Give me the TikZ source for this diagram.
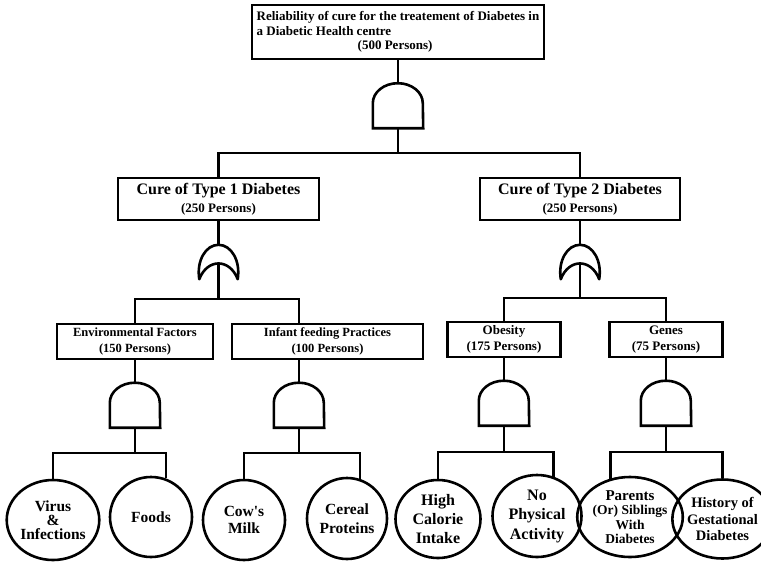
\documentclass[tikz,border=0pt]{standalone}
\usepackage{fontspec}
\setmainfont{Liberation Serif}
\usetikzlibrary{shapes.geometric,calc}
\begin{document}
\begin{tikzpicture}[x=1pt,y=1pt,
  wire/.style={line width=2.6pt},
  box/.style={draw,line width=2.6pt,rectangle,inner sep=0pt,align=center},
  evt/.style={draw,ellipse,line width=2.6pt,inner sep=0pt,align=center},
  gatebox/.style={rectangle,inner sep=0pt,draw=none},
  andg/.style={gatebox,minimum width=50pt,minimum height=45pt},
  org/.style={gatebox,minimum width=38pt,minimum height=34pt}
]
\useasboundingbox (0,0) rectangle (761,-563);

% top event
\node[box,minimum width=292pt,minimum height=54pt,align=left,
      font=\fontsize{13}{14.5}\selectfont\bfseries] (top) at (398,-32)
  {Reliability of cure for the treatement of Diabetes in\\
   a Diabetic Health centre\\
   \hspace*{101pt}(500 Persons)};
\node[andg] (g0) at (398,-105.5) {};
\coordinate (h0) at (398,-153);

% second level
\node[box,minimum width=201pt,minimum height=42pt,font=\fontsize{13}{18}\selectfont\bfseries] (t1) at (218.5,-199)
  {{\fontsize{16}{18}\selectfont Cure of Type 1 Diabetes}\\(250 Persons)};
\node[box,minimum width=200pt,minimum height=42pt,font=\fontsize{13}{18}\selectfont\bfseries] (t2) at (580,-199)
  {{\fontsize{16}{18}\selectfont Cure of Type 2 Diabetes}\\(250 Persons)};
\node[org] (o1) at (218.5,-262) {};
\node[org] (o2) at (580,-262) {};
\coordinate (h1) at (218.5,-299);
\coordinate (h2) at (580,-298);

% third level
\node[box,minimum width=156pt,minimum height=35pt,font=\fontsize{12.5}{16}\selectfont\bfseries] (env) at (135,-341.5)
  {Environmental Factors\\(150 Persons)};
\node[box,minimum width=191pt,minimum height=35pt,font=\fontsize{12.5}{16}\selectfont\bfseries] (inf) at (327.5,-341.5)
  {Infant feeding Practices\\(100 Persons)};
\node[box,minimum width=113pt,minimum height=35pt,font=\fontsize{13}{16}\selectfont\bfseries] (obe) at (504,-339.5)
  {Obesity\\(175 Persons)};
\node[box,minimum width=113pt,minimum height=35pt,font=\fontsize{13}{16}\selectfont\bfseries] (gen) at (666,-339.5)
  {Genes\\(75 Persons)};

\node[andg] (ge) at (135,-405) {};
\node[andg] (gi) at (299,-405) {};
\node[andg] (go) at (504,-403) {};
\node[andg] (gg) at (666,-403) {};
\coordinate (ha) at (135,-453);
\coordinate (hb) at (299,-453);
\coordinate (hc) at (504,-452);
\coordinate (hd) at (666,-452);

% basic events
\node[evt,minimum width=81pt,minimum height=80pt,font=\fontsize{15.5}{14}\selectfont\bfseries] (virus) at (53,-520)
  {Virus\\\&\\Infections};
\node[evt,minimum width=82pt,minimum height=80pt,font=\fontsize{15.5}{17}\selectfont\bfseries] (foods) at (151,-517)
  {Foods};
\node[evt,minimum width=82pt,minimum height=80pt,font=\fontsize{15.5}{17}\selectfont\bfseries] (cow) at (244,-520)
  {Cow\textquotesingle s\\Milk};
\node[evt,minimum width=80pt,minimum height=81pt,font=\fontsize{15.5}{19}\selectfont\bfseries] (cereal) at (347,-518.5)
  {Cereal\\Proteins};
\node[evt,minimum width=85pt,minimum height=78pt,font=\fontsize{16}{19}\selectfont\bfseries] (high) at (438,-519)
  {High\\Calorie\\Intake};
\node[evt,minimum width=89pt,minimum height=82pt,font=\fontsize{16}{19.5}\selectfont\bfseries] (noph) at (537,-516)
  {No\\Physical\\Activity};
\node[evt,minimum width=74pt,minimum height=80pt,font=\fontsize{13.5}{14.5}\selectfont\bfseries] (par) at (630,-517)
  {{\fontsize{15}{14.5}\selectfont Parents}\\(Or) Siblings\\With\\Diabetes};
\node[evt,minimum width=75pt,minimum height=79pt,font=\fontsize{14.5}{16.5}\selectfont\bfseries] (hist) at (722.5,-519)
  {History of\\Gestational\\Diabetes};

% gate symbols
\foreach \g in {g0,ge,gi,go,gg}{
  \draw[wire] (\g.south west) -- ++(0,25)
    arc[start angle=180,end angle=0,x radius=25,y radius=20] -- (\g.south east) -- cycle;
}
\foreach \g in {o1,o2}{
  \draw[wire,line join=round] (\g.south west)
    .. controls ($(\g.south west)+(-3,18)$) and ($(\g.north)+(-13,0)$) .. (\g.north)
    .. controls ($(\g.north)+(13,0)$) and ($(\g.south east)+(3,18)$) .. (\g.south east)
    .. controls ($(\g.south east)+(-8,21)$) and ($(\g.south west)+(8,21)$) .. cycle;
}

% connectors
\draw[wire] (top.south) -- (g0.north);
\draw[wire] (g0.south) -- (h0);
\draw[wire] (t1.north) |- (h0) -| (t2.north);

\draw[wire] (t1.south) -- (o1.north);
\draw[wire] (t2.south) -- (o2.north);
\draw[wire] ($(o1.south)+(0,16)$) -- (h1);
\draw[wire] ($(o2.south)+(0,16)$) -- (h2);
\draw[wire] (env.north) |- (h1) -| ([xshift=-28.5pt]inf.north);
\draw[wire] (obe.north) |- (h2) -| (gen.north);

\draw[wire] (env.south) -- (ge.north);
\draw[wire] ([xshift=-28.5pt]inf.south) -- (gi.north);
\draw[wire] (obe.south) -- (go.north);
\draw[wire] (gen.south) -- (gg.north);
\draw[wire] (ge.south) -- (ha);
\draw[wire] (gi.south) -- (hb);
\draw[wire] (go.south) -- (hc);
\draw[wire] (gg.south) -- (hd);

\draw[wire] (virus.north) |- (ha) -| (foods.69.6);
\draw[wire] (cow.north) |- (hb) -| (cereal.72.7);
\draw[wire] (high.north) |- (hc) -| (noph.67.3);
\draw[wire] (par.117.2) |- (hd) -| (hist.north);
\end{tikzpicture}
\end{document}
